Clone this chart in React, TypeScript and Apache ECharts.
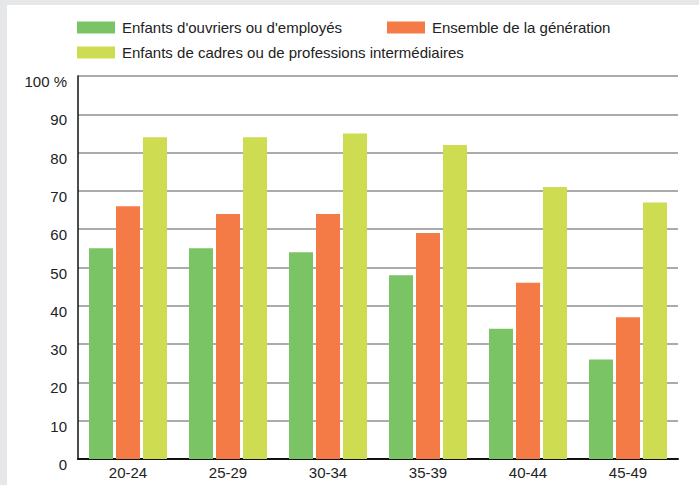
import React, { useEffect, useRef } from "react";
import * as echarts from "echarts";

const categories = ["20-24", "25-29", "30-34", "35-39", "40-44", "45-49"];
const ouvriers = [55, 55, 54, 48, 34, 26];
const ensemble = [66, 64, 64, 59, 46, 37];
const cadres = [84, 84, 85, 82, 71, 67];
const yTicks = [0, 10, 20, 30, 40, 50, 60, 70, 80, 90, 100];

const NAME_O = "Enfants d'ouvriers ou d'employés";
const NAME_E = "Ensemble de la génération";
const NAME_C = "Enfants de cadres ou de professions intermédiaires";

const FONT = "'Liberation Sans', Arial, sans-serif";

export default function App() {
  const ref = useRef<HTMLDivElement>(null);
  useEffect(() => {
    if (!ref.current) return;
    const chart = echarts.init(ref.current, null, { renderer: "svg" });
    const legendBase = {
      orient: "horizontal",
      padding: 0,
      itemWidth: 38,
      itemHeight: 12,
      icon: "rect",
      textStyle: { fontFamily: FONT, fontSize: 15, color: "#222", padding: [0, 0, 0, 2] },
    };
    chart.setOption({
      animation: false,
      textStyle: { fontFamily: FONT },
      legend: [
        { ...legendBase, left: 77, top: 20, data: [NAME_O] },
        { ...legendBase, left: 387, top: 20, data: [NAME_E] },
        { ...legendBase, left: 77, top: 45, data: [NAME_C] },
      ],
      grid: { left: 78, right: 21, top: 76, bottom: 26, containLabel: false },
      xAxis: {
        type: "category",
        data: categories,
        axisLine: { lineStyle: { color: "#111", width: 2 } },
        axisTick: { show: false },
        axisLabel: { fontFamily: FONT, fontSize: 15, color: "#222", margin: 6 },
      },
      yAxis: {
        type: "value",
        min: yTicks[0],
        max: yTicks[yTicks.length - 1],
        interval: 10,
        axisLine: { show: true, lineStyle: { color: "#111", width: 1.5 } },
        axisTick: { show: false },
        splitLine: { lineStyle: { color: "#ababab", width: 2 } },
        axisLabel: {
          fontFamily: FONT,
          fontSize: 15,
          color: "#222",
          margin: 11,
          verticalAlign: "top",
          lineHeight: 11,
          formatter: (v: number) => (v === 100 ? "100 %" : String(v)),
        },
      },
      series: [
        { name: NAME_O, type: "bar", data: ouvriers, barWidth: 24, barGap: "12.5%", itemStyle: { color: "#7AC466" } },
        { name: NAME_E, type: "bar", data: ensemble, barWidth: 24, barGap: "12.5%", itemStyle: { color: "#F47B45" } },
        { name: NAME_C, type: "bar", data: cadres, barWidth: 24, barGap: "12.5%", itemStyle: { color: "#CEDC52" } },
      ],
    });
    return () => chart.dispose();
  }, []);
  return (
    <div style={{ position: "absolute", left: 0, top: 0, width: 699, height: 485, background: "#e6e7e9" }}>
      <div style={{ position: "absolute", left: 7, top: 5, width: 692, height: 480, background: "#ffffff" }} />
      <div ref={ref} style={{ position: "absolute", left: 0, top: 0, width: 699, height: 485 }} />
    </div>
  );
}
